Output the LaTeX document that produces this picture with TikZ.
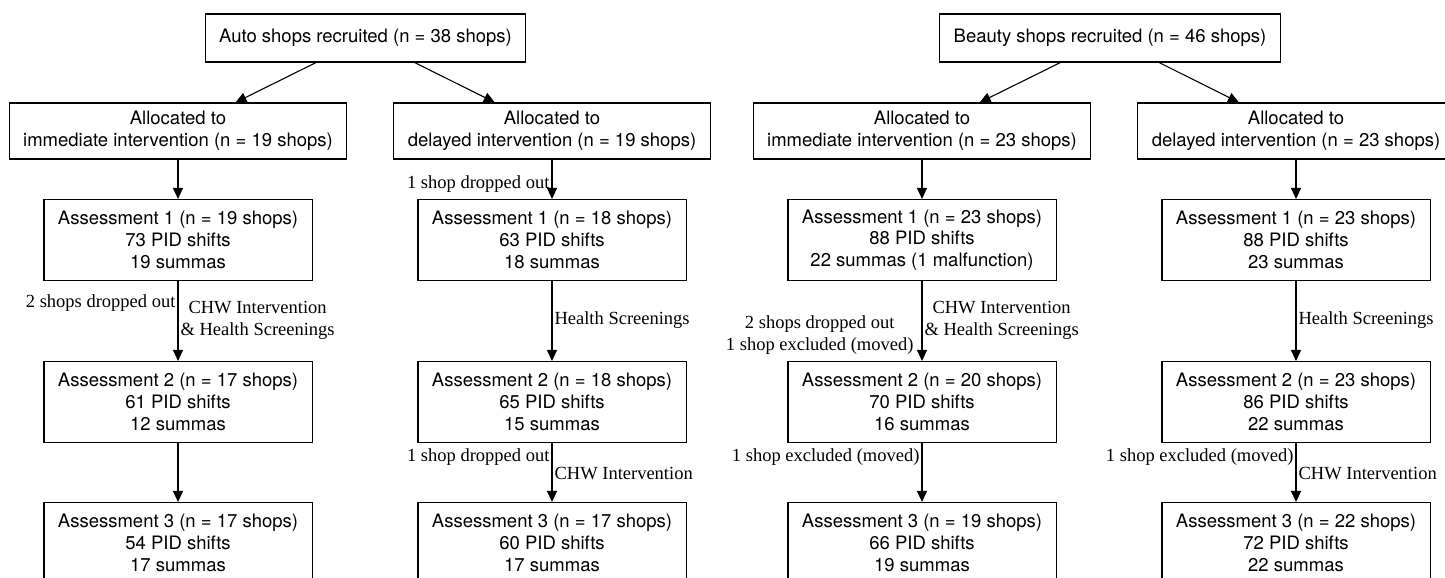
\documentclass[tikz,border=0pt]{standalone}
\usepackage{fontspec}
\setmainfont{Liberation Serif}
\setsansfont{TeX Gyre Heros}
\usetikzlibrary{arrows.meta}

\begin{document}
\begin{tikzpicture}[x=1pt, y=-1pt,
    box/.style={draw, line width=1.1pt, font=\sffamily\fontsize{18.5}{21.7}\selectfont, align=center, inner xsep=14pt, inner ysep=0pt},
    headbox/.style={box, minimum height=48pt},
    allocbox/.style={box, minimum height=56pt},
    assessbox/.style={box, minimum height=81pt},
    lab/.style={font=\rmfamily\fontsize{18.5}{22}\selectfont, align=center, inner sep=2pt},
    arr/.style={-{Triangle[length=11pt, width=10pt]}, line width=1.1pt}]
    \useasboundingbox (0,0) rectangle (1445,578);
    \clip (0,0) rectangle (1445,578);

    % auto shops
    \node[headbox] (1) at (365.5,38) {Auto shops recruited (n = 38 shops)};
    \node[allocbox] (2) at (178,131) {Allocated to\\immediate intervention (n = 19 shops)};
    \node[allocbox] (3) at (552,131) {Allocated to\\delayed intervention (n = 19 shops)};
    \node[assessbox] (4) at (178,240) {Assessment 1 (n = 19 shops)\\73 PID shifts\\19 summas};
    \node[assessbox] (5) at (178,402) {Assessment 2 (n = 17 shops)\\61 PID shifts\\12 summas};
    \node[assessbox] (6) at (178,543) {Assessment 3 (n = 17 shops)\\54 PID shifts\\17 summas};
    \node[assessbox] (7) at (552,240) {Assessment 1 (n = 18 shops)\\63 PID shifts\\18 summas};
    \node[assessbox] (8) at (552,402) {Assessment 2 (n = 18 shops)\\65 PID shifts\\15 summas};
    \node[assessbox] (9) at (552,543) {Assessment 3 (n = 17 shops)\\60 PID shifts\\17 summas};

    % beauty shops
    \node[headbox] (10) at (1110,38) {Beauty shops recruited (n = 46 shops)};
    \node[allocbox] (11) at (922,131) {Allocated to\\immediate intervention (n = 23 shops)};
    \node[allocbox] (12) at (1296,131) {Allocated to\\delayed intervention (n = 23 shops)};
    \node[assessbox] (13) at (922,240) {Assessment 1 (n = 23 shops)\\88 PID shifts\\22 summas (1 malfunction)};
    \node[assessbox] (14) at (922,402) {Assessment 2 (n = 20 shops)\\70 PID shifts\\16 summas};
    \node[assessbox] (15) at (922,543) {Assessment 3 (n = 19 shops)\\66 PID shifts\\19 summas};
    \node[assessbox] (16) at (1296,240) {Assessment 1 (n = 23 shops)\\88 PID shifts\\23 summas};
    \node[assessbox] (17) at (1296,402) {Assessment 2 (n = 23 shops)\\86 PID shifts\\22 summas};
    \node[assessbox] (18) at (1296,543) {Assessment 3 (n = 22 shops)\\72 PID shifts\\22 summas};

    \draw[arr] (1) -- (2);
    \draw[arr] (1) -- (3);
    \draw[arr] (2) -- (4);
    \draw[arr] (4) -- node[lab, pos=0.27, anchor=east] {2 shops dropped out}
        node[lab, pos=0.49, anchor=west] {CHW Intervention\\\& Health Screenings} (5);
    \draw[arr] (5) -- (6);
    \draw[arr] (3) -- node[lab, pos=0.61, anchor=east] {1 shop dropped out} (7);
    \draw[arr] (7) -- node[lab, pos=0.49, anchor=west] {Health Screenings} (8);
    \draw[arr] (8) -- node[lab, pos=0.23, anchor=east] {1 shop dropped out}
        node[lab, pos=0.52, anchor=west] {CHW Intervention} (9);

    \draw[arr] (10) -- (11);
    \draw[arr] (10) -- (12);
    \draw[arr] (11) -- (13);
    \draw[arr] (13) -- node[lab, pos=0.68, anchor=east, xshift=-6pt] {2 shops dropped out\\1 shop excluded (moved)}
        node[lab, pos=0.49, anchor=west] {CHW Intervention\\\& Health Screenings} (14);
    \draw[arr] (14) -- node[lab, pos=0.23, anchor=east] {1 shop excluded (moved)} (15);
    \draw[arr] (12) -- (16);
    \draw[arr] (16) -- node[lab, pos=0.49, anchor=west] {Health Screenings} (17);
    \draw[arr] (17) -- node[lab, pos=0.23, anchor=east] {1 shop excluded (moved)}
        node[lab, pos=0.52, anchor=west] {CHW Intervention} (18);
  \end{tikzpicture}
\end{document}
